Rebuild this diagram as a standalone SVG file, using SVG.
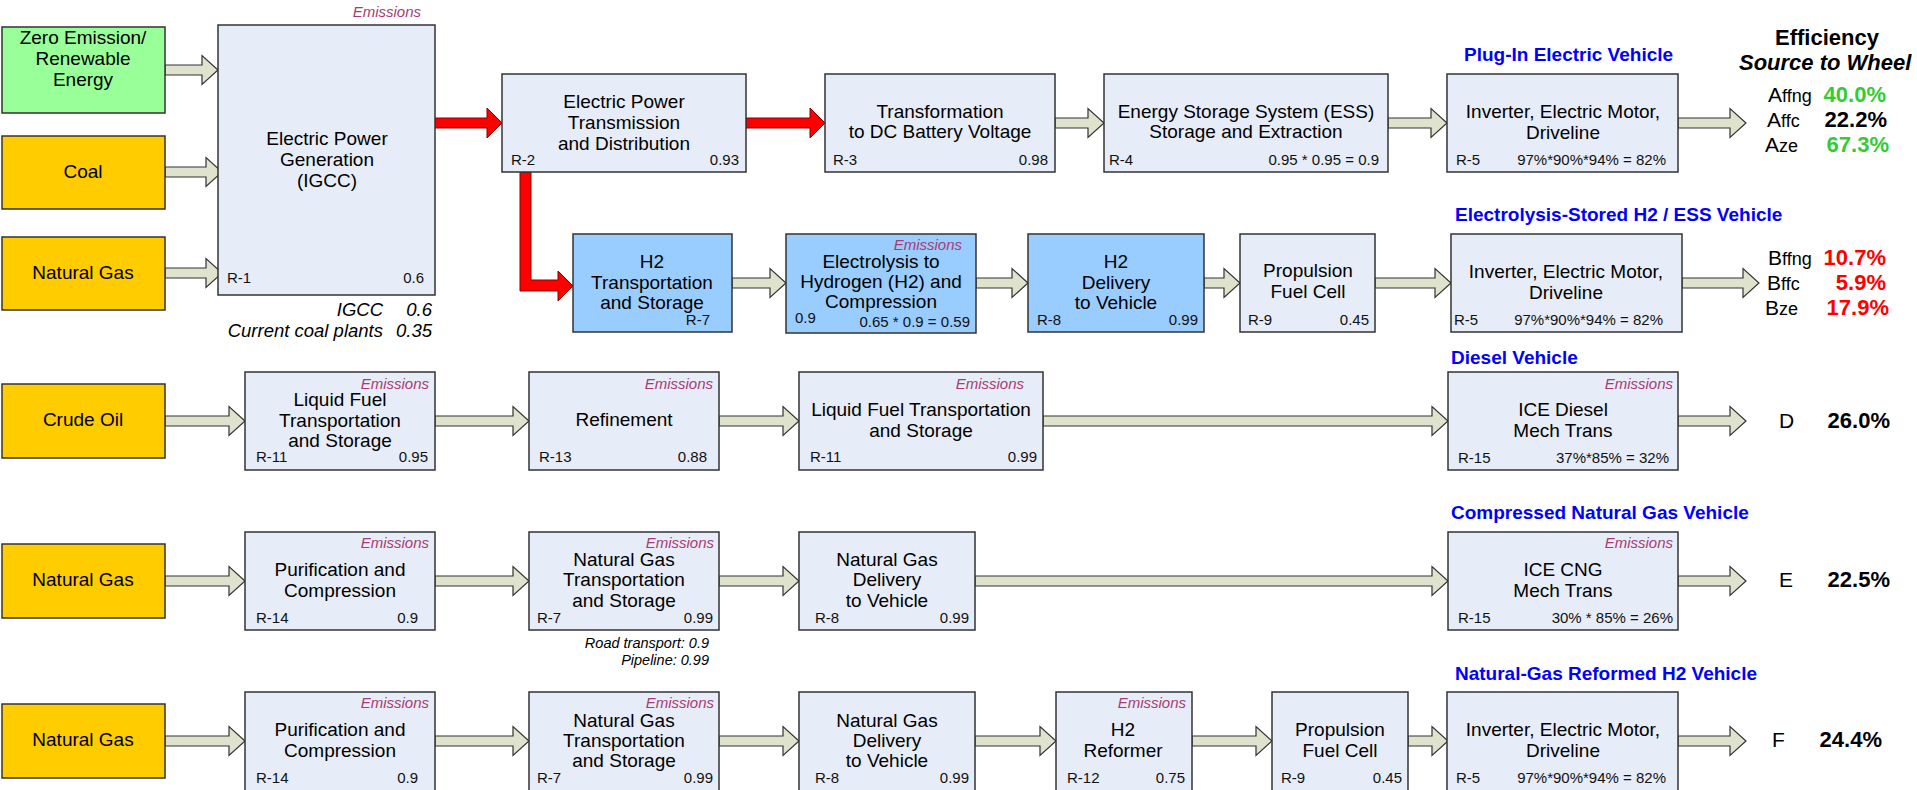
<svg xmlns="http://www.w3.org/2000/svg" width="1917" height="790" viewBox="0 0 1917 790">
<style>
text{font-family:"Liberation Sans",Arial,sans-serif;fill:#000}
.bx{fill:#e6ecf8;stroke:#333;stroke-width:1.5}
.bl{fill:#99ccff;stroke:#333;stroke-width:1.5}
.sr{fill:#ffcc00;stroke:#333;stroke-width:1.5}
.gr{fill:#99ff99;stroke:#333;stroke-width:1.5}
.ar{fill:#dfe2cc;stroke:#333;stroke-width:1.2}
.rd{fill:#ff0000;stroke:#8a0000;stroke-width:1}
.t{font-size:19px;text-anchor:middle}
.s{font-size:15px;fill:#111}
.e{text-anchor:end}
.em{font-size:15px;font-style:italic;fill:#a83c72;text-anchor:end}
.vh{font-size:19px;font-weight:bold;fill:#0000ff}
.it{font-style:italic}
.b{font-weight:bold}
.pc{font-size:22px;font-weight:bold;text-anchor:end}
.lt{font-size:21px}
.sub{font-size:18px}
.g{fill:#33cc33}
.red{fill:#ff0000}
</style>

<g id="connectors">
  <!-- sources to generation -->
  <path class="ar" d="M165,65 H202 V55.5 L218,70 L202,84.5 V75 H165 Z"/>
  <path class="ar" d="M165,167 H206 V157.5 L222,172 L206,186.5 V177 H165 Z"/>
  <path class="ar" d="M165,268 H206 V258.5 L222,273 L206,287.5 V278 H165 Z"/>
  <!-- red electric arrows -->
  <path class="rd" d="M435,118 H487 V108 L502,123 L487,138 V128 H435 Z"/>
  <path class="rd" d="M746,118 H810 V108 L825,123 L810,138 V128 H746 Z"/>
  <path class="rd" d="M520,172 H531 V280 H558 V271 L573,286 L558,301 V291 H520 Z"/>
  <!-- row 1 -->
  <path class="ar" d="M1055,118 H1088 V108.5 L1104,123 L1088,137.5 V128 H1055 Z"/>
  <path class="ar" d="M1388,118 H1431 V108.5 L1447,123 L1431,137.5 V128 H1388 Z"/>
  <path class="ar" d="M1678,118 H1730 V108.5 L1746,123 L1730,137.5 V128 H1678 Z"/>
  <!-- row 2 -->
  <path class="ar" d="M732,278 H770 V268.5 L786,283 L770,297.5 V288 H732 Z"/>
  <path class="ar" d="M976,278 H1012 V268.5 L1028,283 L1012,297.5 V288 H976 Z"/>
  <path class="ar" d="M1204,278 H1224 V268.5 L1240,283 L1224,297.5 V288 H1204 Z"/>
  <path class="ar" d="M1375,278 H1435 V268.5 L1451,283 L1435,297.5 V288 H1375 Z"/>
  <path class="ar" d="M1682,278 H1743 V268.5 L1759,283 L1743,297.5 V288 H1682 Z"/>
  <!-- row 3 -->
  <path class="ar" d="M165,416 H229 V406.5 L245,421 L229,435.5 V426 H165 Z"/>
  <path class="ar" d="M435,416 H513 V406.5 L529,421 L513,435.5 V426 H435 Z"/>
  <path class="ar" d="M719,416 H783 V406.5 L799,421 L783,435.5 V426 H719 Z"/>
  <path class="ar" d="M1043,416 H1432 V406.5 L1448,421 L1432,435.5 V426 H1043 Z"/>
  <path class="ar" d="M1678,416 H1730 V406.5 L1746,421 L1730,435.5 V426 H1678 Z"/>
  <!-- row 4 -->
  <path class="ar" d="M165,576 H229 V566.5 L245,581 L229,595.5 V586 H165 Z"/>
  <path class="ar" d="M435,576 H513 V566.5 L529,581 L513,595.5 V586 H435 Z"/>
  <path class="ar" d="M719,576 H783 V566.5 L799,581 L783,595.5 V586 H719 Z"/>
  <path class="ar" d="M975,576 H1432 V566.5 L1448,581 L1432,595.5 V586 H975 Z"/>
  <path class="ar" d="M1678,576 H1730 V566.5 L1746,581 L1730,595.5 V586 H1678 Z"/>
  <!-- row 5 -->
  <path class="ar" d="M165,736 H229 V726.5 L245,741 L229,755.5 V746 H165 Z"/>
  <path class="ar" d="M435,736 H513 V726.5 L529,741 L513,755.5 V746 H435 Z"/>
  <path class="ar" d="M719,736 H783 V726.5 L799,741 L783,755.5 V746 H719 Z"/>
  <path class="ar" d="M975,736 H1040 V726.5 L1056,741 L1040,755.5 V746 H975 Z"/>
  <path class="ar" d="M1192,736 H1256 V726.5 L1272,741 L1256,755.5 V746 H1192 Z"/>
  <path class="ar" d="M1408,736 H1432 V726.5 L1448,741 L1432,755.5 V746 H1408 Z"/>
  <path class="ar" d="M1678,736 H1730 V726.5 L1746,741 L1730,755.5 V746 H1678 Z"/>
</g>

<!-- sources -->
<g id="src-renewable">
  <rect class="gr" x="2" y="27" width="163" height="86"/>
  <text class="t" x="83" y="44">Zero Emission/</text>
  <text class="t" x="83" y="65">Renewable</text>
  <text class="t" x="83" y="86">Energy</text>
</g>
<g id="src-coal">
  <rect class="sr" x="2" y="136" width="163" height="73"/>
  <text class="t" x="83" y="178">Coal</text>
</g>
<g id="src-ng1">
  <rect class="sr" x="2" y="237" width="163" height="73"/>
  <text class="t" x="83" y="279">Natural Gas</text>
</g>
<g id="src-crude">
  <rect class="sr" x="2" y="384" width="163" height="74"/>
  <text class="t" x="83" y="426">Crude Oil</text>
</g>
<g id="src-ng2">
  <rect class="sr" x="2" y="544" width="163" height="74"/>
  <text class="t" x="83" y="586">Natural Gas</text>
</g>
<g id="src-ng3">
  <rect class="sr" x="2" y="704" width="163" height="74"/>
  <text class="t" x="83" y="746">Natural Gas</text>
</g>

<!-- generation -->
<g id="r1-generation">
  <text class="em" x="421" y="17">Emissions</text>
  <rect class="bx" x="218" y="25" width="217" height="270"/>
  <text class="t" x="327" y="145">Electric Power</text>
  <text class="t" x="327" y="166">Generation</text>
  <text class="t" x="327" y="187">(IGCC)</text>
  <text class="s" x="227" y="283">R-1</text>
  <text class="s e" x="424" y="283">0.6</text>
  <text class="it e" style="font-size:18.5px" x="383" y="316">IGCC</text>
  <text class="it e" style="font-size:18.5px" x="432" y="316">0.6</text>
  <text class="it e" style="font-size:18.5px" x="383" y="337">Current coal plants</text>
  <text class="it e" style="font-size:18.5px" x="432" y="337">0.35</text>
</g>

<!-- row 1 -->
<g id="r2-transmission">
  <rect class="bx" x="502" y="74" width="244" height="98"/>
  <text class="t" x="624" y="108">Electric Power</text>
  <text class="t" x="624" y="129">Transmission</text>
  <text class="t" x="624" y="150">and Distribution</text>
  <text class="s" x="511" y="165">R-2</text>
  <text class="s e" x="739" y="165">0.93</text>
</g>
<g id="r3-transformation">
  <rect class="bx" x="825" y="74" width="230" height="98"/>
  <text class="t" x="940" y="118">Transformation</text>
  <text class="t" x="940" y="138">to DC Battery Voltage</text>
  <text class="s" x="833" y="165">R-3</text>
  <text class="s e" x="1048" y="165">0.98</text>
</g>
<g id="r4-ess">
  <rect class="bx" x="1104" y="74" width="284" height="98"/>
  <text class="t" x="1246" y="118">Energy Storage System (ESS)</text>
  <text class="t" x="1246" y="138">Storage and Extraction</text>
  <text class="s" x="1109" y="165">R-4</text>
  <text class="s e" x="1379" y="165">0.95 * 0.95 = 0.9</text>
</g>
<g id="r5-inverter-a">
  <text class="vh" x="1464" y="61">Plug-In Electric Vehicle</text>
  <rect class="bx" x="1447" y="74" width="231" height="98"/>
  <text class="t" x="1563" y="118">Inverter, Electric Motor,</text>
  <text class="t" x="1563" y="139">Driveline</text>
  <text class="s" x="1456" y="165">R-5</text>
  <text class="s e" x="1666" y="165">97%*90%*94% = 82%</text>
</g>

<!-- row 2 -->
<g id="r7-h2-transport">
  <rect class="bl" x="573" y="234" width="159" height="98"/>
  <text class="t" x="652" y="268">H2</text>
  <text class="t" x="652" y="289">Transportation</text>
  <text class="t" x="652" y="309">and Storage</text>
  <text class="s e" x="710" y="325">R-7</text>
</g>
<g id="electrolysis">
  <rect class="bl" x="786" y="234" width="190" height="99"/>
  <text class="em" x="962" y="250">Emissions</text>
  <text class="t" x="881" y="268">Electrolysis to</text>
  <text class="t" x="881" y="288">Hydrogen (H2) and</text>
  <text class="t" x="881" y="308">Compression</text>
  <text class="s" x="795" y="323">0.9</text>
  <text class="s e" x="970" y="327">0.65 * 0.9 = 0.59</text>
</g>
<g id="r8-h2-delivery">
  <rect class="bl" x="1028" y="234" width="176" height="98"/>
  <text class="t" x="1116" y="268">H2</text>
  <text class="t" x="1116" y="289">Delivery</text>
  <text class="t" x="1116" y="309">to Vehicle</text>
  <text class="s" x="1037" y="325">R-8</text>
  <text class="s e" x="1198" y="325">0.99</text>
</g>
<g id="r9-fuelcell-a">
  <rect class="bx" x="1240" y="234" width="135" height="98"/>
  <text class="t" x="1308" y="277">Propulsion</text>
  <text class="t" x="1308" y="298">Fuel Cell</text>
  <text class="s" x="1248" y="325">R-9</text>
  <text class="s e" x="1369" y="325">0.45</text>
</g>
<g id="r5-inverter-b">
  <text class="vh" x="1455" y="221">Electrolysis-Stored H2 / ESS Vehicle</text>
  <rect class="bx" x="1451" y="234" width="231" height="98"/>
  <text class="t" x="1566" y="278">Inverter, Electric Motor,</text>
  <text class="t" x="1566" y="299">Driveline</text>
  <text class="s" x="1454" y="325">R-5</text>
  <text class="s e" x="1663" y="325">97%*90%*94% = 82%</text>
</g>

<!-- row 3 -->
<g id="r11-liquid-a">
  <rect class="bx" x="245" y="372" width="190" height="98"/>
  <text class="em" x="429" y="389">Emissions</text>
  <text class="t" x="340" y="406">Liquid Fuel</text>
  <text class="t" x="340" y="427">Transportation</text>
  <text class="t" x="340" y="447">and Storage</text>
  <text class="s" x="256" y="462">R-11</text>
  <text class="s e" x="428" y="462">0.95</text>
</g>
<g id="r13-refinement">
  <rect class="bx" x="529" y="372" width="190" height="98"/>
  <text class="em" x="713" y="389">Emissions</text>
  <text class="t" x="624" y="426">Refinement</text>
  <text class="s" x="539" y="462">R-13</text>
  <text class="s e" x="707" y="462">0.88</text>
</g>
<g id="r11-liquid-b">
  <rect class="bx" x="799" y="372" width="244" height="98"/>
  <text class="em" x="1024" y="389">Emissions</text>
  <text class="t" x="921" y="416">Liquid Fuel Transportation</text>
  <text class="t" x="921" y="437">and Storage</text>
  <text class="s" x="810" y="462">R-11</text>
  <text class="s e" x="1037" y="462">0.99</text>
</g>
<g id="r15-diesel">
  <text class="vh" x="1451" y="364">Diesel Vehicle</text>
  <rect class="bx" x="1448" y="372" width="230" height="98"/>
  <text class="em" x="1673" y="389">Emissions</text>
  <text class="t" x="1563" y="416">ICE Diesel</text>
  <text class="t" x="1563" y="437">Mech Trans</text>
  <text class="s" x="1458" y="463">R-15</text>
  <text class="s e" x="1669" y="463">37%*85% = 32%</text>
</g>

<!-- row 4 -->
<g id="r14-purification-a">
  <rect class="bx" x="245" y="532" width="190" height="98"/>
  <text class="em" x="429" y="548">Emissions</text>
  <text class="t" x="340" y="576">Purification and</text>
  <text class="t" x="340" y="597">Compression</text>
  <text class="s" x="256" y="623">R-14</text>
  <text class="s e" x="418" y="623">0.9</text>
</g>
<g id="r7-ng-transport-a">
  <rect class="bx" x="529" y="532" width="190" height="98"/>
  <text class="em" x="714" y="548">Emissions</text>
  <text class="t" x="624" y="566">Natural Gas</text>
  <text class="t" x="624" y="586">Transportation</text>
  <text class="t" x="624" y="607">and Storage</text>
  <text class="s" x="537" y="623">R-7</text>
  <text class="s e" x="713" y="623">0.99</text>
  <text class="it e" style="font-size:14.5px" x="709" y="648">Road transport: 0.9</text>
  <text class="it e" style="font-size:14.5px" x="709" y="665">Pipeline: 0.99</text>
</g>
<g id="r8-ng-delivery-a">
  <rect class="bx" x="799" y="532" width="176" height="98"/>
  <text class="t" x="887" y="566">Natural Gas</text>
  <text class="t" x="887" y="586">Delivery</text>
  <text class="t" x="887" y="607">to Vehicle</text>
  <text class="s" x="815" y="623">R-8</text>
  <text class="s e" x="969" y="623">0.99</text>
</g>
<g id="r15-cng">
  <text class="vh" x="1451" y="519">Compressed Natural Gas Vehicle</text>
  <rect class="bx" x="1448" y="532" width="230" height="98"/>
  <text class="em" x="1673" y="548">Emissions</text>
  <text class="t" x="1563" y="576">ICE CNG</text>
  <text class="t" x="1563" y="597">Mech Trans</text>
  <text class="s" x="1458" y="623">R-15</text>
  <text class="s e" x="1673" y="623">30% * 85% = 26%</text>
</g>

<!-- row 5 -->
<g id="r14-purification-b">
  <rect class="bx" x="245" y="692" width="190" height="99"/>
  <text class="em" x="429" y="708">Emissions</text>
  <text class="t" x="340" y="736">Purification and</text>
  <text class="t" x="340" y="757">Compression</text>
  <text class="s" x="256" y="783">R-14</text>
  <text class="s e" x="418" y="783">0.9</text>
</g>
<g id="r7-ng-transport-b">
  <rect class="bx" x="529" y="692" width="190" height="99"/>
  <text class="em" x="714" y="708">Emissions</text>
  <text class="t" x="624" y="727">Natural Gas</text>
  <text class="t" x="624" y="747">Transportation</text>
  <text class="t" x="624" y="767">and Storage</text>
  <text class="s" x="537" y="783">R-7</text>
  <text class="s e" x="713" y="783">0.99</text>
</g>
<g id="r8-ng-delivery-b">
  <rect class="bx" x="799" y="692" width="176" height="99"/>
  <text class="t" x="887" y="727">Natural Gas</text>
  <text class="t" x="887" y="747">Delivery</text>
  <text class="t" x="887" y="767">to Vehicle</text>
  <text class="s" x="815" y="783">R-8</text>
  <text class="s e" x="969" y="783">0.99</text>
</g>
<g id="r12-reformer">
  <rect class="bx" x="1056" y="692" width="136" height="99"/>
  <text class="em" x="1186" y="708">Emissions</text>
  <text class="t" x="1123" y="736">H2</text>
  <text class="t" x="1123" y="757">Reformer</text>
  <text class="s" x="1067" y="783">R-12</text>
  <text class="s e" x="1185" y="783">0.75</text>
</g>
<g id="r9-fuelcell-b">
  <rect class="bx" x="1272" y="692" width="136" height="99"/>
  <text class="t" x="1340" y="736">Propulsion</text>
  <text class="t" x="1340" y="757">Fuel Cell</text>
  <text class="s" x="1281" y="783">R-9</text>
  <text class="s e" x="1402" y="783">0.45</text>
</g>
<g id="r5-inverter-c">
  <text class="vh" x="1455" y="680">Natural-Gas Reformed H2 Vehicle</text>
  <rect class="bx" x="1447" y="692" width="231" height="99"/>
  <text class="t" x="1563" y="736">Inverter, Electric Motor,</text>
  <text class="t" x="1563" y="757">Driveline</text>
  <text class="s" x="1456" y="783">R-5</text>
  <text class="s e" x="1666" y="783">97%*90%*94% = 82%</text>
</g>

<!-- efficiency results -->
<g id="efficiency">
  <text class="b" style="font-size:22px" x="1827" y="45" text-anchor="middle">Efficiency</text>
  <text class="b it" style="font-size:22px" x="1739" y="70">Source to Wheel</text>
  <text class="lt" x="1768" y="102">A<tspan class="sub">ffng</tspan></text>
  <text class="pc g" x="1886" y="102">40.0%</text>
  <text class="lt" x="1767" y="127">A<tspan class="sub">ffc</tspan></text>
  <text class="pc" x="1887" y="127">22.2%</text>
  <text class="lt" x="1765" y="152">A<tspan class="sub">ze</tspan></text>
  <text class="pc g" x="1889" y="152">67.3%</text>
  <text class="lt" x="1768" y="265">B<tspan class="sub">ffng</tspan></text>
  <text class="pc red" x="1886" y="265">10.7%</text>
  <text class="lt" x="1767" y="290">B<tspan class="sub">ffc</tspan></text>
  <text class="pc red" x="1886" y="290">5.9%</text>
  <text class="lt" x="1765" y="315">B<tspan class="sub">ze</tspan></text>
  <text class="pc red" x="1889" y="315">17.9%</text>
  <text class="lt" x="1779" y="428">D</text>
  <text class="pc" x="1890" y="428">26.0%</text>
  <text class="lt" x="1779" y="587">E</text>
  <text class="pc" x="1890" y="587">22.5%</text>
  <text class="lt" x="1772" y="747">F</text>
  <text class="pc" x="1882" y="747">24.4%</text>
</g>
</svg>
